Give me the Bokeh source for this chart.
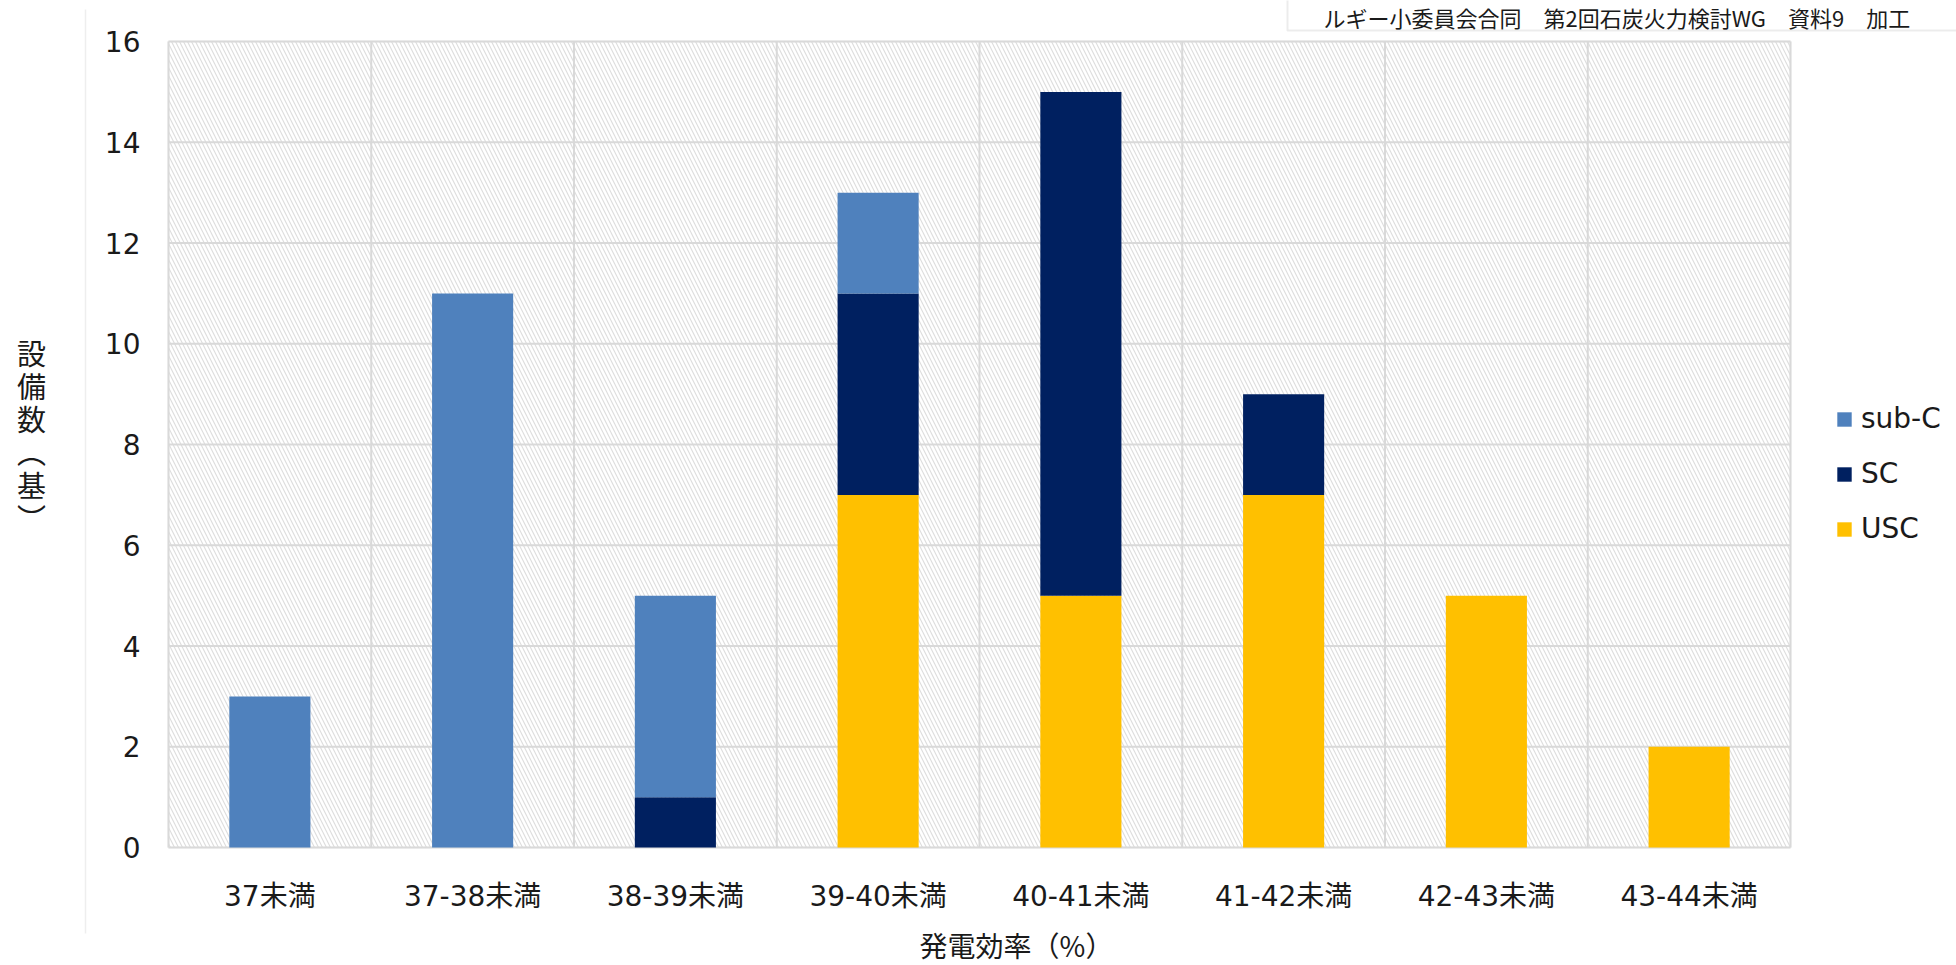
from bokeh.plotting import figure
from bokeh.models import (ColumnDataSource, FixedTicker, Legend, LegendItem, Label,
                          BoxAnnotation, PolyAnnotation, Range1d)
from bokeh.embed import file_html
from bokeh.resources import INLINE

# ---- data ----
categories = ["37未満", "37-38未満", "38-39未満", "39-40未満", "40-41未満",
              "41-42未満", "42-43未満", "43-44未満"]
usc = [0, 0, 0, 7, 5, 7, 5, 2]
sc = [0, 0, 1, 4, 10, 2, 0, 0]
subc = [3, 11, 4, 2, 0, 0, 0, 0]
series_names = ["USC", "SC", "sub-C"]
series_colors = ["#FFC000", "#002060", "#4F81BD"]
y_ticks = [0, 2, 4, 6, 8, 10, 12, 14, 16]
x_title = "発電効率（%）"
y_title = "設\n備\n数\n︵\n基\n︶"
source_note = "ルギー小委員会合同　第2回石炭火力検討WG　資料9　加工"

LATIN = "DejaVu Sans, Noto Sans CJK JP"
CJK = "Noto Sans CJK JP"
TXT = "#1a1a1a"
GRID = "#d9d9d9"

n = len(categories)
ymax = y_ticks[-1]
xpos = [i + 0.5 for i in range(n)]
xgrid_ticks = list(range(n + 1))
source = ColumnDataSource(dict(x=xpos, usc=usc, sc=sc, subc=subc))

# layout in canvas pixels: plot area spans FL..FR horizontally, FT..FB vertically
W, H = 1956, 965
FL, FR, FT, FB = 168, 1790, 41, 847
kx = (FR - FL) / n
ky = (FB - FT) / ymax
x_range = Range1d(-FL / kx, n + (W - FR) / kx)
y_range = Range1d(-(H - FB) / ky, ymax + FT / ky)

p = figure(width=W, height=H, x_range=x_range, y_range=y_range,
           output_backend="svg", toolbar_location=None,
           min_border_left=0, min_border_right=0, min_border_top=0, min_border_bottom=0)
p.title.visible = False
p.background_fill_color = "white"
p.border_fill_color = "white"
p.outline_line_color = None

# hatched plot area with light border
p.add_layout(BoxAnnotation(left=0, right=n, bottom=0, top=ymax,
                           fill_color="white", fill_alpha=1.0,
                           hatch_pattern="left_diagonal_line", hatch_color="#dedede",
                           hatch_scale=8, hatch_weight=1.2,
                           line_color=GRID, line_width=2, level="image"))

# grid lines, limited to the plot area
p.xgrid.visible = False
p.ygrid.visible = False
p.segment(x0=xgrid_ticks, y0=[0] * len(xgrid_ticks), x1=xgrid_ticks, y1=[ymax] * len(xgrid_ticks),
          line_color=GRID, line_width=2)
p.segment(x0=[0] * len(y_ticks), y0=y_ticks, x1=[n] * len(y_ticks), y1=y_ticks,
          line_color=GRID, line_width=2)

renderers = p.vbar_stack(["usc", "sc", "subc"], x="x", width=0.4, source=source,
                         fill_color=series_colors, line_color=None)

# axes fixed at the plot-area edges
for ax in (p.xaxis[0], p.yaxis[0]):
    ax.fixed_location = 0
    ax.axis_line_color = None
    ax.major_tick_line_color = None
    ax.minor_tick_line_color = None
    ax.major_tick_out = 0
    ax.major_tick_in = 0
    ax.minor_tick_out = 0
    ax.minor_tick_in = 0
    ax.major_label_text_font = LATIN
    ax.major_label_text_font_size = "28px"
    ax.major_label_text_color = TXT

p.xaxis.ticker = FixedTicker(ticks=xpos)
p.xaxis.major_label_overrides = {x: c for x, c in zip(xpos, categories)}
p.xaxis.major_label_standoff = 32
p.yaxis.ticker = FixedTicker(ticks=y_ticks)
p.yaxis.major_label_standoff = 28

# legend (frame == canvas, location is bottom-left from canvas bottom)
items = [LegendItem(label=series_names[i], renderers=[renderers[i]]) for i in (2, 1, 0)]
legend = Legend(items=items, location=(1835, H - 545),
                glyph_width=18, glyph_height=18, label_standoff=8,
                label_text_font=LATIN, label_text_font_size="28px",
                label_text_color=TXT, spacing=22, padding=0, margin=0,
                border_line_color=None, background_fill_alpha=0)
p.add_layout(legend)

# y title: upright stacked characters
p.add_layout(Label(x=31, y=H - 434, x_units="screen", y_units="screen",
                   text=y_title, text_align="center", text_baseline="middle",
                   text_font=CJK, text_font_size="29px",
                   text_line_height=0.79, text_color=TXT))
# x title
p.add_layout(Label(x=1016, y=H - 944, x_units="screen", y_units="screen",
                   text=x_title, text_align="center", text_baseline="middle",
                   text_font=CJK, text_font_size="28px", text_color=TXT))

# source note box at the top right
p.add_layout(Label(x=1323, y=H - 16, x_units="screen", y_units="screen",
                   text=source_note, text_align="left", text_baseline="middle",
                   text_font=CJK, text_font_size="22px", text_color=TXT))
p.add_layout(PolyAnnotation(xs=[1287, 1287, 2000, 2000],
                            ys=[H + 30, H - 30, H - 30, H + 30],
                            xs_units="screen", ys_units="screen",
                            fill_alpha=0, line_color="#bfbfbf", line_width=2))
# thin slide line at the left
p.add_layout(PolyAnnotation(xs=[85, 85], ys=[H - 9, H - 933],
                            xs_units="screen", ys_units="screen",
                            fill_alpha=0, line_color="#c8c8c8", line_width=1.5))

open("out.html", "w").write(file_html(p, INLINE))
